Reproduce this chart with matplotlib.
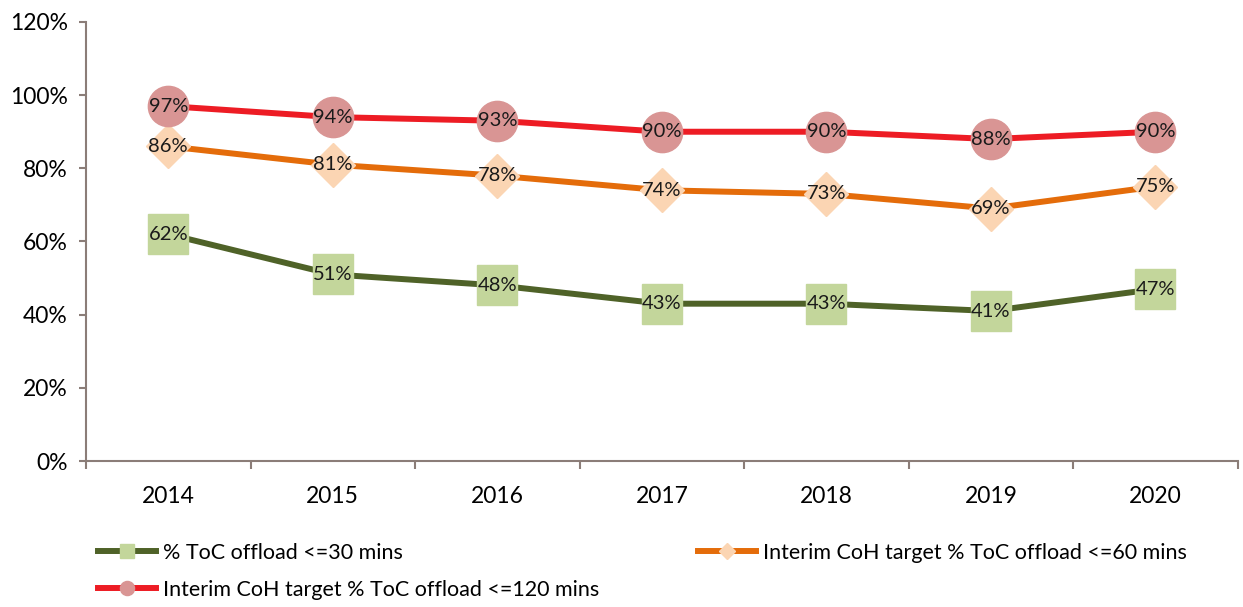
import matplotlib as mpl

mpl.use("Agg")

import matplotlib.pyplot as plt
import numpy as np

years = ["2014", "2015", "2016", "2017", "2018", "2019", "2020"]
offload_30 = [62, 51, 48, 43, 43, 41, 47]
offload_60 = [86, 81, 78, 74, 73, 69, 75]
offload_120 = [97, 94, 93, 90, 90, 88, 90]

labels = [
    "% ToC offload <=30 mins",
    "Interim CoH target % ToC offload <=60 mins",
    "Interim CoH target % ToC offload <=120 mins",
]

plt.rcParams["font.family"] = ["Lato", "DejaVu Sans"]

axis_color = "#8b7d78"

fig = plt.figure(figsize=(12.43, 6.07), dpi=100)
ax = fig.add_axes([0.0692, 0.2405, 0.9265, 0.7233])

x = np.arange(len(years))
series = [
    (offload_30, "#4f6228", "s", 29, "#c3d69b"),
    (offload_60, "#e46c0a", "D", 22, "#fbd5b3"),
    (offload_120, "#ed1c24", "o", 29, "#d99594"),
]

handles = []
for (values, line_color, marker, size, face), label in zip(series, labels):
    (line,) = ax.plot(
        x, values, color=line_color, linewidth=4.3, marker=marker, markersize=size,
        markerfacecolor=face, markeredgecolor=face, label=label, zorder=3,
    )
    handles.append(line)
    for xi, v in zip(x, values):
        ax.text(xi, v, f"{v}%", ha="center", va="center", fontsize=14.5, color="#1a1a1a", zorder=4)

ax.set_xlim(-0.5, len(years) - 0.5)
ax.set_ylim(0, 120)
ax.set_yticks(np.arange(0, 121, 20))
ax.set_yticklabels([f"{t}%" for t in range(0, 121, 20)])
ax.set_xticks(x)
ax.set_xticklabels(years)
ax.set_xticks(np.arange(-0.5, len(years), 1), minor=True)
ax.tick_params(axis="x", which="major", length=0, pad=18, labelsize=16.5)
ax.tick_params(axis="x", which="minor", length=6, width=1.5, color=axis_color)
ax.tick_params(axis="y", length=5, width=1.5, color=axis_color, labelsize=16.5, pad=8)

for side in ["top", "right"]:
    ax.spines[side].set_visible(False)
for side in ["left", "bottom"]:
    ax.spines[side].set_color(axis_color)
    ax.spines[side].set_linewidth(1.5)

legend = fig.legend(
    [handles[0], handles[2], handles[1]],
    [labels[0], labels[2], labels[1]],
    ncol=2, loc="upper left", bbox_to_anchor=(0.072, 0.12), frameon=False,
    fontsize=15.5, markerscale=0.35, handlelength=2.7, handletextpad=0.3,
    columnspacing=4.6, labelspacing=0.78, borderaxespad=0,
)

fig.savefig("out.png", dpi=100)
